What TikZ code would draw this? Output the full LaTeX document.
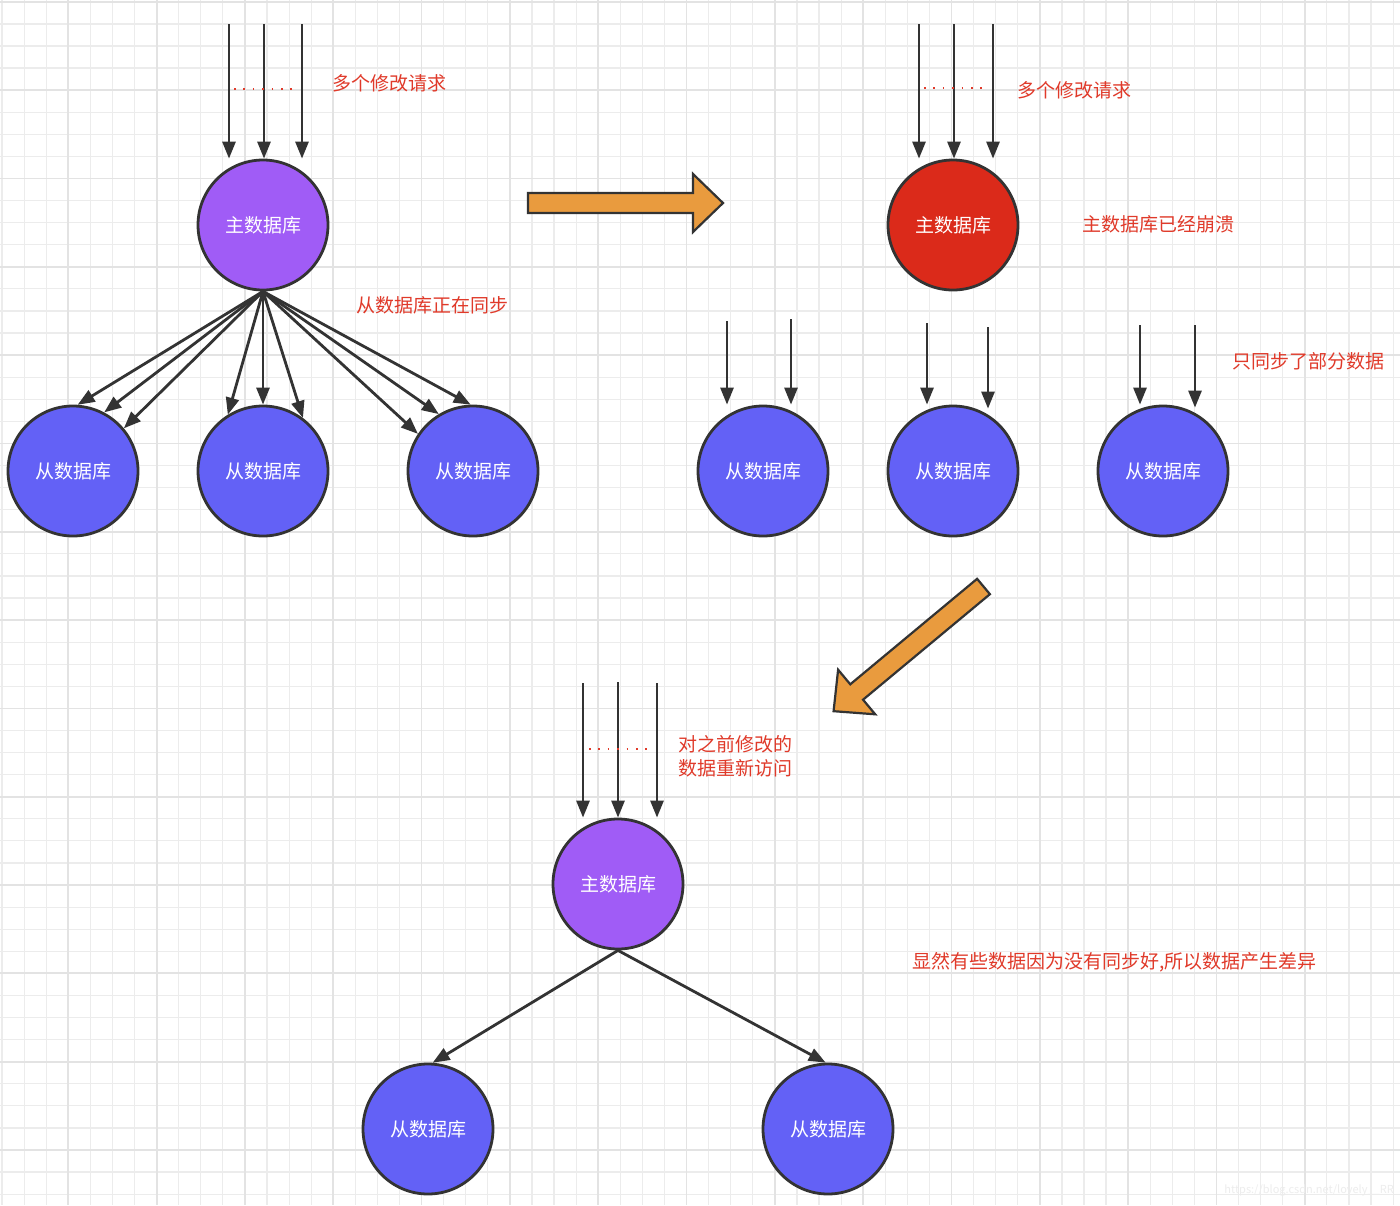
\documentclass[tikz,border=0pt]{standalone}
\usepackage{fontspec}
\setmainfont{Noto Sans CJK SC}
\usetikzlibrary{arrows.meta,positioning,calc}
\definecolor{ink}{HTML}{333333}
\definecolor{master}{HTML}{A05CF6}
\definecolor{slave}{HTML}{6361F6}
\definecolor{crash}{HTML}{DB2A1A}
\definecolor{note}{HTML}{E03A2A}
\definecolor{orange}{HTML}{E99B3E}
\definecolor{gridminor}{HTML}{ECECEC}
\definecolor{gridmajor}{HTML}{E3E3E3}
\tikzset{
  db/.style={circle, draw=ink, line width=2.8pt, fill=#1, minimum size=130pt, inner sep=0pt, text=white, font=\fontsize{19}{23}\selectfont},
  arrow/.style={-{Triangle[length=17pt,width=13pt]}, line width=2.8pt, draw=ink},
  remark/.style={text=note, font=\fontsize{19}{24}\selectfont, align=left, inner sep=0pt, anchor=west},
  gap/.style={draw=note, line width=1.6pt, dash pattern=on 1.6pt off 7.8pt},
  gridline/.style={draw=gridminor, line width=1.2pt},
  gridbold/.style={draw=gridmajor, line width=1.8pt},
  fatarrow/.pic={\draw[draw=ink, line width=2.2pt, fill=orange, line join=miter]
    (0,-10) -- (165,-10) -- (165,-29) -- (195,0) -- (165,29) -- (165,10) -- (0,10) -- cycle;}
}

\begin{document}
\begin{tikzpicture}[x=1pt,y=1pt]

% Canvas and grid
\fill[white] (0,0) rectangle (1400,-1205);
\useasboundingbox (0,0) rectangle (1400,-1205);
\foreach \k in {0,...,63} \draw[gridline] ({2.06+22.08*\k},0) -- ++(0,-1205);
\foreach \k in {0,...,54} \draw[gridline] (0,{-(1.84+22.08*\k)}) -- ++(1400,0);
\foreach \k in {0,...,15} \draw[gridbold] ({-20.02+88.32*\k},0) -- ++(0,-1205);
\foreach \k in {0,...,13} \draw[gridbold] (0,{-(1.84+88.32*\k)}) -- ++(1400,0);

% Stage 1: master syncing to slaves
\node[db=master] (m1) at (263,-225) {主数据库};
\node[db=slave] (s1a) at (73,-471) {从数据库};
\node[db=slave] (s1b) at (263,-471) {从数据库};
\node[db=slave] (s1c) at (473,-471) {从数据库};
\coordinate (in1a) at (229,-24);
\coordinate (in1b) at (264,-24);
\coordinate (in1c) at (302,-24);
\node[remark] (req1) at (332,-83) {多个修改请求};
\node[remark] (sync1) at (356,-305) {从数据库正在同步};

\draw[arrow] (in1a) -- (in1a |- m1.north);
\draw[arrow] (in1b) -- (in1b |- m1.north);
\draw[arrow] (in1c) -- (in1c |- m1.north);
\draw[gap] (234,-89) -- (296,-89);
\foreach \a in {86,62,40} \draw[arrow] (m1.south) -- (s1a.\a);
\foreach \a in {122,90,53} \draw[arrow] (m1.south) -- (s1b.\a);
\foreach \a in {146,121,92} \draw[arrow] (m1.south) -- (s1c.\a);

\pic at (528,-203) {fatarrow};

% Stage 2: master down
\node[db=crash] (m2) at (953,-225) {主数据库};
\node[db=slave] (s2a) at (763,-471) {从数据库};
\node[db=slave] (s2b) at (953,-471) {从数据库};
\node[db=slave] (s2c) at (1163,-471) {从数据库};
\coordinate (in2a) at (919,-24);
\coordinate (in2b) at (954,-24);
\coordinate (in2c) at (993,-24);
\coordinate (p2a) at (727,-321);
\coordinate (p2b) at (791,-319);
\coordinate (p2c) at (927,-323);
\coordinate (p2d) at (988,-327);
\coordinate (p2e) at (1140,-325);
\coordinate (p2f) at (1195,-325);
\node[remark] (req2) at (1017,-90) {多个修改请求};
\node[remark] (down2) at (1082,-224) {主数据库已经崩溃};
\node[remark] (part2) at (1232,-361) {只同步了部分数据};

\draw[arrow] (in2a) -- (in2a |- m2.north);
\draw[arrow] (in2b) -- (in2b |- m2.north);
\draw[arrow] (in2c) -- (in2c |- m2.north);
\draw[gap] (924,-88) -- (986,-88);
\draw[arrow] (p2a) -- (p2a |- s2a.north);
\draw[arrow] (p2b) -- (p2b |- s2a.north);
\draw[arrow] (p2c) -- (p2c |- s2b.north);
\draw[arrow] (p2d) -- ([yshift=-4pt]p2d |- s2b.north);
\draw[arrow] (p2e) -- (p2e |- s2c.north);
\draw[arrow] (p2f) -- ([yshift=-3pt]p2f |- s2c.north);

\pic[rotate=219.75] at (983.5,-586.5) {fatarrow};

% Stage 3: new master, data differs
\node[db=master] (m3) at (618,-884) {主数据库};
\node[db=slave] (s3a) at (428,-1129) {从数据库};
\node[db=slave] (s3b) at (828,-1129) {从数据库};
\coordinate (in3a) at (583,-683);
\coordinate (in3b) at (618,-682);
\coordinate (in3c) at (657,-683);
\node[remark] (revisit3) at (678,-756) {对之前修改的\\数据重新访问};
\node[remark] (diff3) at (912,-962) {显然有些数据因为没有同步好,所以数据产生差异};

\draw[arrow] (in3a) -- (in3a |- m3.north);
\draw[arrow] (in3b) -- (in3b |- m3.north);
\draw[arrow] (in3c) -- (in3c |- m3.north);
\draw[gap] (589,-749) -- (651,-749);
\draw[arrow] (m3.south) -- (s3a.86);
\draw[arrow] (m3.south) -- (s3b.92);

\node[anchor=east, inner sep=0pt, text=gray!14, font=\fontsize{11}{13}\selectfont] (mark) at (1394,-1190) {https://blog.csdn.net/lovely\_\_RR};

\end{tikzpicture}
\end{document}
